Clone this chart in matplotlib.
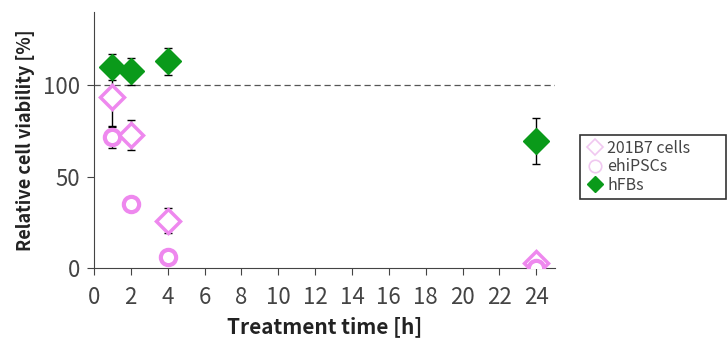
import matplotlib.pyplot as plt
from matplotlib.lines import Line2D

plt.rcParams['font.family'] = ['Noto Sans CJK JP', 'DejaVu Sans']

# treatment times [h]
t = [1, 2, 4, 24]

# 201B7 cells
b7 = [93.6, 72.7, 26.0, 2.7]
b7_err = [16.0, 8.0, 7.0, 0.0]

# ehiPSCs
ehi = [71.4, 34.8, 6.2, 0.3]
ehi_err = [6.0, 0.0, 0.0, 0.0]

# hFBs
hfb = [110.0, 107.6, 113.0, 69.6]
hfb_err = [7.0, 7.5, 7.5, 12.5]

pink = '#ee88ee'
green = '#0a9a1a'

fig = plt.figure(figsize=(7.28, 3.42), dpi=100)
ax = fig.add_axes([0.129, 0.216, 0.633, 0.749])

ax.axhline(100, color='#555555', lw=0.9, ls=(0, (5, 3)), zorder=1)


def series(y, err, marker, ms, mfc, mec, mew, z):
    # error bars only where there is a spread
    xs = [a for a, e in zip(t, err) if e > 0]
    ys = [b for b, e in zip(y, err) if e > 0]
    es = [e for e in err if e > 0]
    ax.errorbar(xs, ys, yerr=es, fmt='none', ecolor='black', elinewidth=1,
                capsize=3, zorder=z - 0.5)
    ax.plot(t, y, ls='none', marker=marker, ms=ms, mfc=mfc, mec=mec, mew=mew, zorder=z)


series(b7, b7_err, 'D', 12, 'white', pink, 2.5, 3)
series(ehi, ehi_err, 'o', 11, 'white', pink, 3, 3)
series(hfb, hfb_err, 'D', 13, green, green, 1, 4)

ax.set_xlim(0, 25)
ax.set_ylim(0, 140)
ax.set_xticks(range(0, 25, 2))
ax.set_yticks([0, 50, 100])
ax.spines['top'].set_visible(False)
ax.spines['right'].set_visible(False)
ax.spines['left'].set_color('#444444')
ax.spines['bottom'].set_color('#444444')
ax.tick_params(labelsize=16, colors='#444444', length=5, direction='out')
ax.tick_params(axis='x', pad=8)
ax.tick_params(axis='y', pad=5)

ax.set_xlabel('Treatment time [h]', fontsize=15, fontweight='bold', color='#222222',
              labelpad=5)
ax.set_ylabel('Relative cell viability [%]', fontsize=13, fontweight='bold', color='#222222',
              labelpad=6)

handles = [
    Line2D([], [], ls='none', marker='D', ms=8, mfc='white', mec='#f0c8f0', mew=1.2),
    Line2D([], [], ls='none', marker='o', ms=9, mfc='white', mec='#f0c8f0', mew=1.2),
    Line2D([], [], ls='none', marker='D', ms=8, mfc=green, mec=green),
]
leg = fig.legend(handles, ['201B7 cells', 'ehiPSCs', 'hFBs'], loc='upper left',
                 bbox_to_anchor=(0.797, 0.415, 0.2, 0.19), mode='expand',
                 fontsize=11.5, fancybox=False, edgecolor='black', handletextpad=0.2,
                 borderpad=0.3, labelspacing=0.1, handlelength=1.2, borderaxespad=0)
leg.get_frame().set_linewidth(1.2)
for txt in leg.get_texts():
    txt.set_color('#444444')

fig.savefig('out.png', dpi=100)
